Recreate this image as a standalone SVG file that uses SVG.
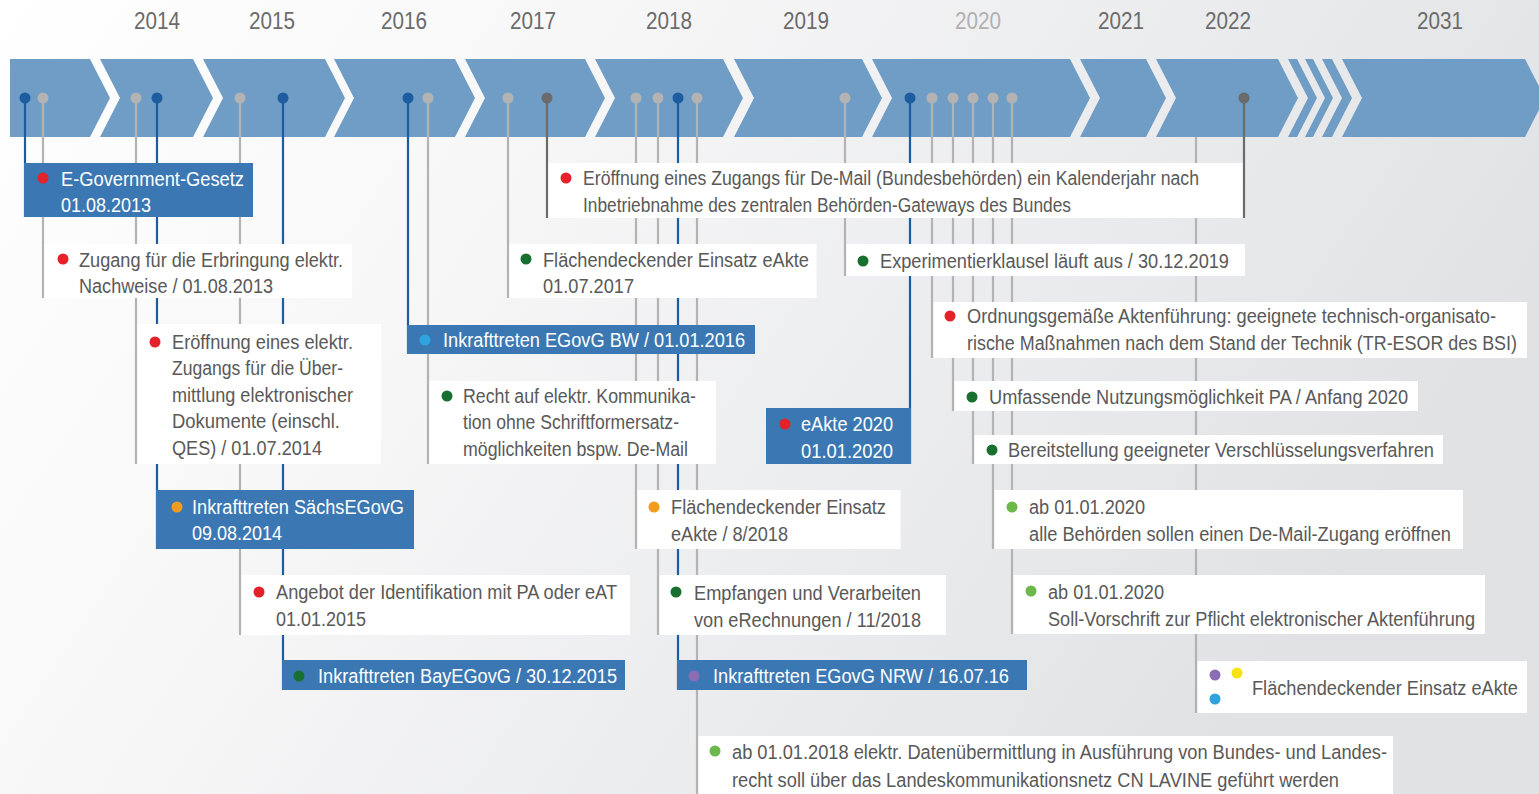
<svg xmlns="http://www.w3.org/2000/svg" width="1539" height="794" viewBox="0 0 1539 794">
<defs>
<linearGradient id="bg" x1="0" y1="0" x2="1" y2="0.35">
<stop offset="0" stop-color="#ffffff"/>
<stop offset="0.35" stop-color="#f7f7f8"/>
<stop offset="1" stop-color="#e1e2e4"/>
</linearGradient>
<style>
.band{fill:#6f9dc6}
.t{font-family:"Liberation Sans",Arial,sans-serif;font-size:20px;fill:#595959}
.w{fill:#ffffff}
.yr{font-family:"Liberation Sans",Arial,sans-serif;font-size:24px;fill:#6b6b6b;text-anchor:middle}
.wb{fill:#ffffff}
.bb{fill:#3b78b3}
.lg{stroke:#b3b3b3;stroke-width:2.2;fill:none}
.lb{stroke:#1d5c9e;stroke-width:2.2;fill:none}
.ld{stroke:#6b6b6b;stroke-width:2.2;fill:none}
.dg{fill:#b3b3b3}
.db{fill:#1d5c9e}
.dd{fill:#6b6b6b}
.red{fill:#e3222a}
.org{fill:#f29b1f}
.dkg{fill:#17702f}
.ltg{fill:#6cb84b}
.ltb{fill:#2ea3dd}
.pur{fill:#8b6db3}
.yel{fill:#f6e313}
</style>
</defs>
<rect x="0" y="0" width="1539" height="794" fill="url(#bg)"/>

<g id="years">
<text class="yr" x="157" y="29" textLength="46" lengthAdjust="spacingAndGlyphs">2014</text>
<text class="yr" x="272" y="29" textLength="46" lengthAdjust="spacingAndGlyphs">2015</text>
<text class="yr" x="404" y="29" textLength="46" lengthAdjust="spacingAndGlyphs">2016</text>
<text class="yr" x="533" y="29" textLength="46" lengthAdjust="spacingAndGlyphs">2017</text>
<text class="yr" x="669" y="29" textLength="46" lengthAdjust="spacingAndGlyphs">2018</text>
<text class="yr" x="806" y="29" textLength="46" lengthAdjust="spacingAndGlyphs">2019</text>
<text class="yr" x="978" y="29" textLength="46" lengthAdjust="spacingAndGlyphs" style="fill:#b0b0b0">2020</text>
<text class="yr" x="1121" y="29" textLength="46" lengthAdjust="spacingAndGlyphs">2021</text>
<text class="yr" x="1228" y="29" textLength="46" lengthAdjust="spacingAndGlyphs">2022</text>
<text class="yr" x="1440" y="29" textLength="46" lengthAdjust="spacingAndGlyphs">2031</text>
</g>

<g id="timeline-band">
<polygon class="band" points="10,59 90,59 110,98 90,137 10,137"/>
<polygon class="band" points="100,59 193,59 213,98 193,137 100,137 120,98"/>
<polygon class="band" points="203,59 325,59 345,98 325,137 203,137 223,98"/>
<polygon class="band" points="334,59 455,59 475,98 455,137 334,137 354,98"/>
<polygon class="band" points="465,59 585,59 605,98 585,137 465,137 485,98"/>
<polygon class="band" points="595,59 723,59 743,98 723,137 595,137 615,98"/>
<polygon class="band" points="734,59 862,59 882,98 862,137 734,137 754,98"/>
<polygon class="band" points="872,59 1070,59 1090,98 1070,137 872,137 892,98"/>
<polygon class="band" points="1080,59 1146,59 1166,98 1146,137 1080,137 1100,98"/>
<polygon class="band" points="1156,59 1278,59 1298,98 1278,137 1156,137 1176,98"/>
<polygon class="band" points="1288,59 1297,59 1317,98 1297,137 1288,137 1308,98"/>
<polygon class="band" points="1305,59 1313,59 1333,98 1313,137 1305,137 1325,98"/>
<polygon class="band" points="1322,59 1332,59 1352,98 1332,137 1322,137 1342,98"/>
<polygon class="band" points="1342,59 1525,59 1545,98 1525,137 1342,137 1362,98"/>
</g>

<g id="connectors">
<line class="lb" x1="25" y1="98" x2="25" y2="217"/>
<line class="lg" x1="43" y1="98" x2="43" y2="298"/>
<line class="lg" x1="136" y1="98" x2="136" y2="464"/>
<line class="lb" x1="157" y1="98" x2="157" y2="549"/>
<line class="lg" x1="240" y1="98" x2="240" y2="635"/>
<line class="lb" x1="283" y1="98" x2="283" y2="690"/>
<line class="lb" x1="408" y1="98" x2="408" y2="354"/>
<line class="lg" x1="428" y1="98" x2="428" y2="464"/>
<line class="lg" x1="508" y1="98" x2="508" y2="298"/>
<line class="ld" x1="547" y1="98" x2="547" y2="218"/>
<line class="lg" x1="636" y1="98" x2="636" y2="549"/>
<line class="lg" x1="658" y1="98" x2="658" y2="635"/>
<line class="lb" x1="678" y1="98" x2="678" y2="690"/>
<line class="lg" x1="697" y1="98" x2="697" y2="794"/>
<line class="lg" x1="845" y1="98" x2="845" y2="276"/>
<line class="lb" x1="910" y1="98" x2="910" y2="464"/>
<line class="lg" x1="932" y1="98" x2="932" y2="358"/>
<line class="lg" x1="953" y1="98" x2="953" y2="411"/>
<line class="lg" x1="973" y1="98" x2="973" y2="464"/>
<line class="lg" x1="993" y1="98" x2="993" y2="549"/>
<line class="lg" x1="1012" y1="98" x2="1012" y2="634"/>
<line class="lg" x1="1196" y1="137" x2="1196" y2="713"/>
<line class="ld" x1="1244" y1="98" x2="1244" y2="218"/>
<circle class="db" cx="25" cy="98" r="5.5"/>
<circle class="dg" cx="43" cy="98" r="5.5"/>
<circle class="dg" cx="136" cy="98" r="5.5"/>
<circle class="db" cx="157" cy="98" r="5.5"/>
<circle class="dg" cx="240" cy="98" r="5.5"/>
<circle class="db" cx="283" cy="98" r="5.5"/>
<circle class="db" cx="408" cy="98" r="5.5"/>
<circle class="dg" cx="428" cy="98" r="5.5"/>
<circle class="dg" cx="508" cy="98" r="5.5"/>
<circle class="dd" cx="547" cy="98" r="5.5"/>
<circle class="dg" cx="636" cy="98" r="5.5"/>
<circle class="dg" cx="658" cy="98" r="5.5"/>
<circle class="db" cx="678" cy="98" r="5.5"/>
<circle class="dg" cx="697" cy="98" r="5.5"/>
<circle class="dg" cx="845" cy="98" r="5.5"/>
<circle class="db" cx="910" cy="98" r="5.5"/>
<circle class="dg" cx="932" cy="98" r="5.5"/>
<circle class="dg" cx="953" cy="98" r="5.5"/>
<circle class="dg" cx="973" cy="98" r="5.5"/>
<circle class="dg" cx="993" cy="98" r="5.5"/>
<circle class="dg" cx="1012" cy="98" r="5.5"/>
<circle class="dd" cx="1244" cy="98" r="5.5"/>
</g>

<g id="n-egovg">
<rect class="bb" x="24" y="163" width="229" height="54"/>
<circle class="red" cx="43" cy="178" r="5.5"/>
<text class="t w" x="61" y="186" textLength="183" lengthAdjust="spacingAndGlyphs">E-Government-Gesetz</text>
<text class="t w" x="61" y="212" textLength="90" lengthAdjust="spacingAndGlyphs">01.08.2013</text>
</g>

<g id="n-zugang-nachweise">
<rect class="wb" x="44.5" y="244" width="307.5" height="54"/>
<circle class="red" cx="63" cy="259" r="5.5"/>
<text class="t" x="79" y="267" textLength="264" lengthAdjust="spacingAndGlyphs">Zugang für die Erbringung elektr.</text>
<text class="t" x="79" y="293" textLength="194" lengthAdjust="spacingAndGlyphs">Nachweise / 01.08.2013</text>
</g>

<g id="n-eroeffnung-zugang">
<rect class="wb" x="137.5" y="324" width="243.5" height="140"/>
<circle class="red" cx="155" cy="342" r="5.5"/>
<text class="t" x="172" y="349" textLength="181" lengthAdjust="spacingAndGlyphs">Eröffnung eines elektr.</text>
<text class="t" x="172" y="375" textLength="171" lengthAdjust="spacingAndGlyphs">Zugangs für die Über-</text>
<text class="t" x="172" y="402" textLength="181" lengthAdjust="spacingAndGlyphs">mittlung elektronischer</text>
<text class="t" x="172" y="428" textLength="168" lengthAdjust="spacingAndGlyphs">Dokumente (einschl.</text>
<text class="t" x="172" y="455" textLength="150" lengthAdjust="spacingAndGlyphs">QES) / 01.07.2014</text>
</g>

<g id="n-saechs">
<rect class="bb" x="156" y="490" width="258" height="59"/>
<circle class="org" cx="177" cy="507" r="5.5"/>
<text class="t w" x="192" y="514" textLength="212" lengthAdjust="spacingAndGlyphs">Inkrafttreten SächsEGovG</text>
<text class="t w" x="192" y="540" textLength="90" lengthAdjust="spacingAndGlyphs">09.08.2014</text>
</g>

<g id="n-angebot">
<rect class="wb" x="241.5" y="575" width="388.5" height="60"/>
<circle class="red" cx="259" cy="592" r="5.5"/>
<text class="t" x="276" y="599" textLength="341" lengthAdjust="spacingAndGlyphs">Angebot der Identifikation mit PA oder eAT</text>
<text class="t" x="276" y="626" textLength="90" lengthAdjust="spacingAndGlyphs">01.01.2015</text>
</g>

<g id="n-bay">
<rect class="bb" x="282" y="660" width="343" height="30"/>
<circle class="dkg" cx="299" cy="676" r="5.5"/>
<text class="t w" x="318" y="683" textLength="299" lengthAdjust="spacingAndGlyphs">Inkrafttreten BayEGovG / 30.12.2015</text>
</g>

<g id="n-bw">
<rect class="bb" x="407" y="325" width="348" height="29"/>
<circle class="ltb" cx="425" cy="340" r="5.5"/>
<text class="t w" x="443" y="347" textLength="302" lengthAdjust="spacingAndGlyphs">Inkrafttreten EGovG BW / 01.01.2016</text>
</g>

<g id="n-recht">
<rect class="wb" x="429.5" y="381" width="286.5" height="83"/>
<circle class="dkg" cx="447" cy="396" r="5.5"/>
<text class="t" x="463" y="403" textLength="233" lengthAdjust="spacingAndGlyphs">Recht auf elektr. Kommunika-</text>
<text class="t" x="463" y="429" textLength="216" lengthAdjust="spacingAndGlyphs">tion ohne Schriftformersatz-</text>
<text class="t" x="463" y="456" textLength="225" lengthAdjust="spacingAndGlyphs">möglichkeiten bspw. De-Mail</text>
</g>

<g id="n-eakte-2017">
<rect class="wb" x="509.5" y="244" width="307" height="54"/>
<circle class="dkg" cx="526" cy="259" r="5.5"/>
<text class="t" x="543" y="267" textLength="266" lengthAdjust="spacingAndGlyphs">Flächendeckender Einsatz eAkte</text>
<text class="t" x="543" y="293" textLength="91" lengthAdjust="spacingAndGlyphs">01.07.2017</text>
</g>

<g id="n-demail-bund">
<rect class="wb" x="548.5" y="163" width="694" height="55"/>
<circle class="red" cx="566" cy="178" r="5.5"/>
<text class="t" x="583" y="185" textLength="616" lengthAdjust="spacingAndGlyphs">Eröffnung eines Zugangs für De-Mail (Bundesbehörden) ein Kalenderjahr nach</text>
<text class="t" x="583" y="212" textLength="488" lengthAdjust="spacingAndGlyphs">Inbetriebnahme des zentralen Behörden-Gateways des Bundes</text>
</g>

<g id="n-eakte-2018">
<rect class="wb" x="637.5" y="490" width="263" height="59"/>
<circle class="org" cx="654" cy="507" r="5.5"/>
<text class="t" x="671" y="514" textLength="215" lengthAdjust="spacingAndGlyphs">Flächendeckender Einsatz</text>
<text class="t" x="671" y="541" textLength="117" lengthAdjust="spacingAndGlyphs">eAkte / 8/2018</text>
</g>

<g id="n-erechnung">
<rect class="wb" x="659.5" y="575" width="286.5" height="60"/>
<circle class="dkg" cx="676" cy="592" r="5.5"/>
<text class="t" x="694" y="600" textLength="227" lengthAdjust="spacingAndGlyphs">Empfangen und Verarbeiten</text>
<text class="t" x="694" y="627" textLength="227" lengthAdjust="spacingAndGlyphs">von eRechnungen / 11/2018</text>
</g>

<g id="n-nrw">
<rect class="bb" x="677" y="660" width="350" height="30"/>
<circle class="pur" cx="694" cy="676" r="5.5"/>
<text class="t w" x="713" y="683" textLength="296" lengthAdjust="spacingAndGlyphs">Inkrafttreten EGovG NRW / 16.07.16</text>
</g>

<g id="n-lavine">
<rect class="wb" x="698.5" y="736" width="694.5" height="58"/>
<circle class="ltg" cx="715" cy="751" r="5.5"/>
<text class="t" x="732" y="759" textLength="655" lengthAdjust="spacingAndGlyphs">ab 01.01.2018 elektr. Datenübermittlung in Ausführung von Bundes- und Landes-</text>
<text class="t" x="732" y="787" textLength="607" lengthAdjust="spacingAndGlyphs">recht soll über das Landeskommunikationsnetz CN LAVINE geführt werden</text>
</g>

<g id="n-experiment">
<rect class="wb" x="846.5" y="244" width="398.5" height="32"/>
<circle class="dkg" cx="863" cy="261" r="5.5"/>
<text class="t" x="880" y="268" textLength="349" lengthAdjust="spacingAndGlyphs">Experimentierklausel läuft aus / 30.12.2019</text>
</g>

<g id="n-eakte-2020">
<rect class="bb" x="766" y="408" width="145" height="56"/>
<circle class="red" cx="785" cy="424" r="5.5"/>
<text class="t w" x="801" y="431" textLength="92" lengthAdjust="spacingAndGlyphs">eAkte 2020</text>
<text class="t w" x="801" y="458" textLength="92" lengthAdjust="spacingAndGlyphs">01.01.2020</text>
</g>

<g id="n-aktenfuehrung">
<rect class="wb" x="933.5" y="302" width="593.5" height="56"/>
<circle class="red" cx="950" cy="316" r="5.5"/>
<text class="t" x="967" y="323" textLength="529" lengthAdjust="spacingAndGlyphs">Ordnungsgemäße Aktenführung: geeignete technisch-organisato-</text>
<text class="t" x="967" y="350" textLength="550" lengthAdjust="spacingAndGlyphs">rische Maßnahmen nach dem Stand der Technik (TR-ESOR des BSI)</text>
</g>

<g id="n-pa">
<rect class="wb" x="954.5" y="381" width="463.5" height="30"/>
<circle class="dkg" cx="972" cy="397" r="5.5"/>
<text class="t" x="989" y="404" textLength="419" lengthAdjust="spacingAndGlyphs">Umfassende Nutzungsmöglichkeit PA / Anfang 2020</text>
</g>

<g id="n-verschluesselung">
<rect class="wb" x="974.5" y="435" width="468.5" height="29"/>
<circle class="dkg" cx="992" cy="450" r="5.5"/>
<text class="t" x="1008" y="457" textLength="426" lengthAdjust="spacingAndGlyphs">Bereitstellung geeigneter Verschlüsselungsverfahren</text>
</g>

<g id="n-demail-alle">
<rect class="wb" x="994.5" y="490" width="468.5" height="59"/>
<circle class="ltg" cx="1012" cy="507" r="5.5"/>
<text class="t" x="1029" y="514" textLength="116" lengthAdjust="spacingAndGlyphs">ab 01.01.2020</text>
<text class="t" x="1029" y="541" textLength="422" lengthAdjust="spacingAndGlyphs">alle Behörden sollen einen De-Mail-Zugang eröffnen</text>
</g>

<g id="n-soll">
<rect class="wb" x="1013.5" y="575" width="471.5" height="59"/>
<circle class="ltg" cx="1031" cy="591" r="5.5"/>
<text class="t" x="1048" y="599" textLength="116" lengthAdjust="spacingAndGlyphs">ab 01.01.2020</text>
<text class="t" x="1048" y="626" textLength="427" lengthAdjust="spacingAndGlyphs">Soll-Vorschrift zur Pflicht elektronischer Aktenführung</text>
</g>

<g id="n-eakte-2022">
<rect class="wb" x="1197.5" y="661" width="329.5" height="52"/>
<circle class="pur" cx="1215" cy="675" r="5.5"/>
<circle class="yel" cx="1237" cy="673" r="5.5"/>
<circle class="ltb" cx="1215" cy="699" r="5.5"/>
<text class="t" x="1252" y="695" textLength="266" lengthAdjust="spacingAndGlyphs">Flächendeckender Einsatz eAkte</text>
</g>
</svg>
